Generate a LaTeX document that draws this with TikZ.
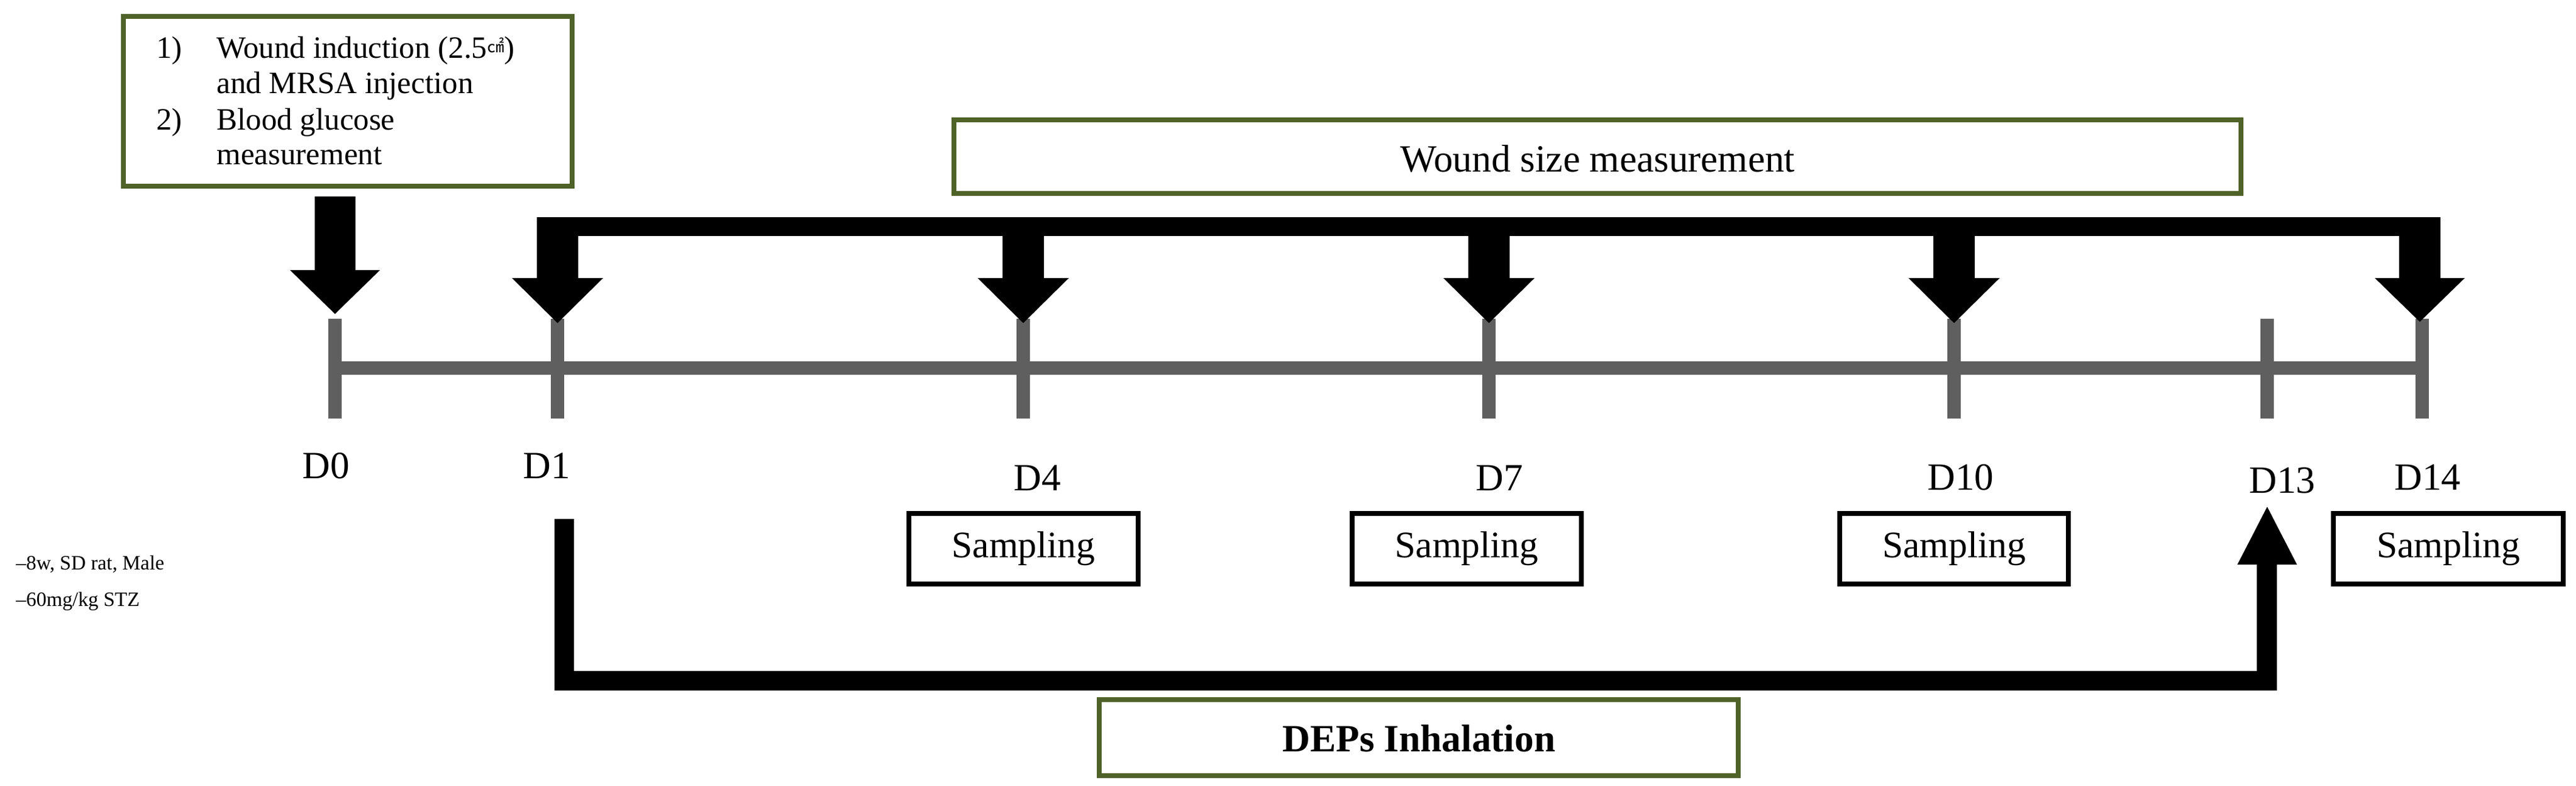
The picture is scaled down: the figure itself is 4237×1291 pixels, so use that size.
\documentclass[tikz,border=0pt]{standalone}
\usepackage{fontspec}
\setmainfont{Liberation Serif}
\newfontfamily\cjk{Noto Sans CJK SC}
\definecolor{boxgreen}{HTML}{4F6228}
\definecolor{tickgray}{HTML}{5F5F5F}
\newcommand\tlDown[6]{% x, shafttop, headtop, tip, shafthalf, headhalf
  \fill (#1-#5,#2) -- (#1+#5,#2) -- (#1+#5,#3) -- (#1+#6,#3) -- (#1,#4) -- (#1-#6,#3) -- (#1-#5,#3) -- cycle;}
\begin{document}
\begin{tikzpicture}[x=0.01cm,y=-0.01cm,
  gbox/.style={draw=boxgreen,line width=2.2pt,inner sep=0pt},
  sbox/.style={draw=black,line width=2.2pt,minimum width=377\pgflinewidth,inner sep=0pt},
  dlab/.style={font=\fontsize{18}{20}\selectfont,anchor=base},
  tick/.style={draw=tickgray,line width=6.5pt}]
\useasboundingbox (0,0) rectangle (4237,1291);
% boxes
\draw[gbox] (203,27) rectangle (941,306);
\node[anchor=base west,font=\fontsize{14.5}{16}\selectfont] (n1) at (245,96) {1)};
\node[anchor=base west,font=\fontsize{14.5}{16}\selectfont] (t1) at (344,96) {Wound induction (2.5{\cjk\fontsize{8}{9}\selectfont\raisebox{0.6ex}{㎠}})};
\node[anchor=base west,font=\fontsize{14.5}{16}\selectfont] (t1b) at (344,154) {and MRSA injection};
\node[anchor=base west,font=\fontsize{14.5}{16}\selectfont] (n2) at (245,214) {2)};
\node[anchor=base west,font=\fontsize{14.5}{16}\selectfont] (t2) at (344,214) {Blood glucose};
\node[anchor=base west,font=\fontsize{14.5}{16}\selectfont] (t2b) at (344,271) {measurement};
\draw[gbox] (1569,197) rectangle (3686,318);
\node[dlab] (wsm) at (2628,282) {Wound size measurement};
% timeline
\coordinate (d0) at (551,605);
\coordinate (d1) at (917,605);
\coordinate (d4) at (1683,605);
\coordinate (d7) at (2449,605);
\coordinate (d10) at (3214,605);
\coordinate (d13) at (3729,605);
\coordinate (d14) at (3984,605);
\draw[draw=tickgray,line width=6.5pt] (d0) -- (d14);
\foreach \p in {551,917,1683,2449,3214,3729,3984}
  \draw[tick] (\p,524) -- (\p,688);
% labels
\node[dlab] (l0) at (536,786) {D0};
\node[dlab] (l1) at (899,786) {D1};
\node[dlab] (l4) at (1706,806) {D4};
\node[dlab] (l7) at (2466,806) {D7};
\node[dlab] (l10) at (3225,805) {D10};
\node[dlab] (l13) at (3754,810) {D13};
\node[dlab] (l14) at (3993,805) {D14};
% sampling boxes
\foreach \a/\b/\n in {1495/1872/s4,2224/2601/s7,3026/3402/s10,3838/4216/s14}{
  \draw[draw=black,line width=2.2pt] (\a,844) rectangle (\b,960);
  \node[font=\fontsize{17.5}{19}\selectfont] (\n) at ({(\a+\b)/2},902) {Sampling};
}
% D0 arrow
\tlDown{551}{323}{444}{516}{33.5}{74}
% top bracket
\fill (883,357) rectangle (4014,388);
\tlDown{917}{357}{457}{531}{34}{75}
\tlDown{1683}{357}{457}{531}{34}{75}
\tlDown{2449}{357}{457}{531}{34}{75}
\tlDown{3214}{357}{457}{531}{34}{75}
\tlDown{3980}{357}{457}{529}{34}{74}
% bottom bracket
\fill (912,853) -- (944,853) -- (944,1103) -- (3712,1103) -- (3712,928) -- (3680,928) -- (3729,833) -- (3778,928) -- (3745,928) -- (3745,1135) -- (912,1135) -- cycle;
\draw[gbox] (1808,1150) rectangle (2859,1275);
\node[dlab,font=\fontsize{18}{20}\selectfont\bfseries] (dep) at (2334,1235) {DEPs Inhalation};
% left notes
\node[anchor=base west,font=\fontsize{9.5}{11}\selectfont] (r1) at (14,936) {–8w, SD rat, Male};
\node[anchor=base west,font=\fontsize{9.5}{11}\selectfont] (r2) at (14,996) {–60mg/kg STZ};
\end{tikzpicture}
\end{document}
